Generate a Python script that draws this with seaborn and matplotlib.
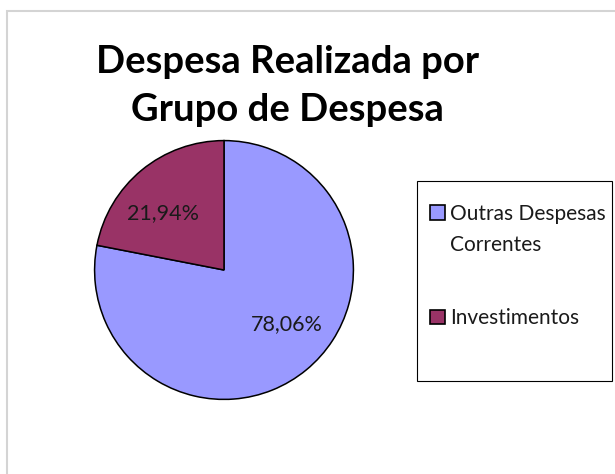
import matplotlib
matplotlib.use("Agg")
import matplotlib.pyplot as plt
import matplotlib.patches as mpatches
import seaborn as sns

categorias = ["Outras Despesas", "Investimentos"]
continuacao = "Correntes"  # second line of the first category
valores = [78.06, 21.94]
rotulos = ["78,06%", "21,94%"]
cores = ["#9999FF", "#993366"]

sns.set_theme(style="white")
plt.rcParams['font.family'] = ['Lato', 'DejaVu Sans']
paleta = sns.color_palette(cores)

fig = plt.figure(figsize=(6.15, 4.74), dpi=100)

# outer chart border (light gray, open on right/bottom)
borda = mpatches.Rectangle((7/615, -0.2), 1.2, 1 - 11/474 + 0.2, transform=fig.transFigure,
                           fill=False, edgecolor="#D4D4D4", linewidth=1.5)
fig.patches.append(borda)

# title
fig.text(287.5/615, 1 - 62/474, "Despesa Realizada por", ha="center", va="center",
         fontsize=27.5, fontweight="bold", color="black")
fig.text(287.5/615, 1 - 110/474, "Grupo de Despesa", ha="center", va="center",
         fontsize=27.5, fontweight="bold", color="black")

# pie
cx, cy, r = 224, 270, 132
ax = fig.add_axes([(cx - r)/615, (474 - cy - r)/474, 2*r/615, 2*r/474])
wedges, _ = ax.pie(valores, colors=paleta, startangle=90, counterclock=False, radius=1,
                   wedgeprops=dict(edgecolor="black", linewidth=1.1))
ax.set_xlim(-1.02, 1.02)
ax.set_ylim(-1.02, 1.02)
ax.axis("off")

# data labels
pos_rotulos = [(0.485, -0.417), (-0.47, 0.44)]
for (x, y), t in zip(pos_rotulos, rotulos):
    ax.text(x, y, t, ha="center", va="center", fontsize=15.5, color="#1a1a1a")

# legend box
caixa = mpatches.Rectangle((417/615, 1 - 381/474), 195/615, 200/474, transform=fig.transFigure,
                           fill=False, edgecolor="black", linewidth=0.8)
fig.patches.append(caixa)

handles = [mpatches.Patch(facecolor=c, edgecolor="black", linewidth=1.2) for c in paleta]
leg = fig.legend(handles, categorias, loc="upper left",
                 bbox_to_anchor=(430/615, 1 - 204/474), frameon=False,
                 fontsize=15, handlelength=0.7, handleheight=0.7, handletextpad=0.25,
                 labelspacing=4.05, borderpad=0, borderaxespad=0)
for t in leg.get_texts():
    t.set_color("#1a1a1a")

# second line of the first legend label
fig.canvas.draw()
bb = leg.get_texts()[0].get_window_extent().transformed(fig.transFigure.inverted())
fig.text(bb.x0, bb.y0 - 31/474 + bb.height/2, continuacao, ha="left", va="center",
         fontsize=15, color="#1a1a1a")

fig.savefig("out.png", dpi=100)
